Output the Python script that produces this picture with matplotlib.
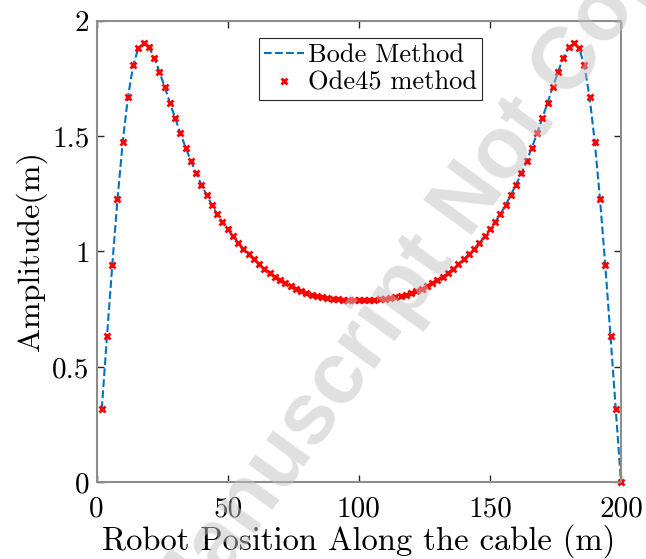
import matplotlib
matplotlib.use('Agg')
import matplotlib.pyplot as plt

plt.rcParams['font.family'] = 'cmr10'
plt.rcParams['mathtext.fontset'] = 'cm'
plt.rcParams['axes.formatter.use_mathtext'] = True

# robot position along the cable (m)
position = list(range(2, 201, 2))

# amplitude (m); both methods overlap
bode_amp = [0.318, 0.634, 0.940, 1.226, 1.474, 1.670, 1.807, 1.881, 1.901, 1.884,
            1.839, 1.778, 1.712, 1.644, 1.577, 1.512, 1.449, 1.392, 1.338, 1.290,
            1.245, 1.201, 1.162, 1.128, 1.096, 1.065, 1.038, 1.012, 0.989, 0.966,
            0.945, 0.926, 0.908, 0.891, 0.877, 0.862, 0.851, 0.839, 0.829, 0.820,
            0.813, 0.807, 0.802, 0.798, 0.795, 0.793, 0.791, 0.790, 0.790, 0.790,
            0.790, 0.790, 0.791, 0.793, 0.795, 0.798, 0.802, 0.807, 0.813, 0.820,
            0.829, 0.839, 0.851, 0.862, 0.877, 0.891, 0.908, 0.926, 0.945, 0.966,
            0.989, 1.012, 1.038, 1.065, 1.096, 1.128, 1.162, 1.201, 1.245, 1.290,
            1.338, 1.392, 1.449, 1.512, 1.577, 1.644, 1.712, 1.778, 1.839, 1.884,
            1.901, 1.881, 1.807, 1.670, 1.474, 1.226, 0.940, 0.634, 0.318, 0.000]
ode45_amp = list(bode_amp)

x_ticks = [0, 50, 100, 150, 200]
y_ticks = [0, 0.5, 1, 1.5, 2]

fig = plt.figure(figsize=(6.46, 5.59), dpi=100)
ax = fig.add_axes([0.1494, 0.1369, 0.8119, 0.8264])

ax.plot(position, bode_amp, '--', color='#0072BD', lw=1.5, label='Bode Method')
ax.plot(position, ode45_amp, 'x', color='red', ms=4.5, mew=2, label='Ode45 method',
        clip_on=False)

ax.set_xlim(0, 200)
ax.set_ylim(0, 2)
ax.set_xticks(x_ticks)
ax.set_yticks(y_ticks)
ax.set_xticklabels([str(v) for v in x_ticks])
ax.set_yticklabels(['0', '0.5', '1', '1.5', '2'])
ax.tick_params(direction='in', top=True, right=True, length=5, width=1,
               color='#262626', labelsize=21)
ax.tick_params(axis='x', pad=10)
ax.tick_params(axis='y', pad=5)
for s in ax.spines.values():
    s.set_color('#8c8c8c')
    s.set_linewidth(1.5)

ax.set_xlabel('Robot Position Along the cable (m)', fontsize=23.5, labelpad=1)
ax.set_ylabel('Amplitude(m)', fontsize=23, labelpad=4)

leg = ax.legend(loc='upper left', bbox_to_anchor=(0.31, 0.962), fontsize=19,
                frameon=True, fancybox=False, framealpha=1, edgecolor='#262626',
                handlelength=1.5, handletextpad=0.15, borderpad=0.2,
                labelspacing=0.15, borderaxespad=0)
leg.get_frame().set_linewidth(0.8)

# journal watermark
fig.text(392 / 646, 1 - 346 / 559, 'Accepted Manuscript Not Copyedited',
         family='Liberation Sans', weight='bold', fontsize=63, color='#c2c2c2',
         alpha=0.5, rotation=54, ha='center', va='baseline', rotation_mode='anchor',
         zorder=10)

fig.savefig('out.png', dpi=100)
